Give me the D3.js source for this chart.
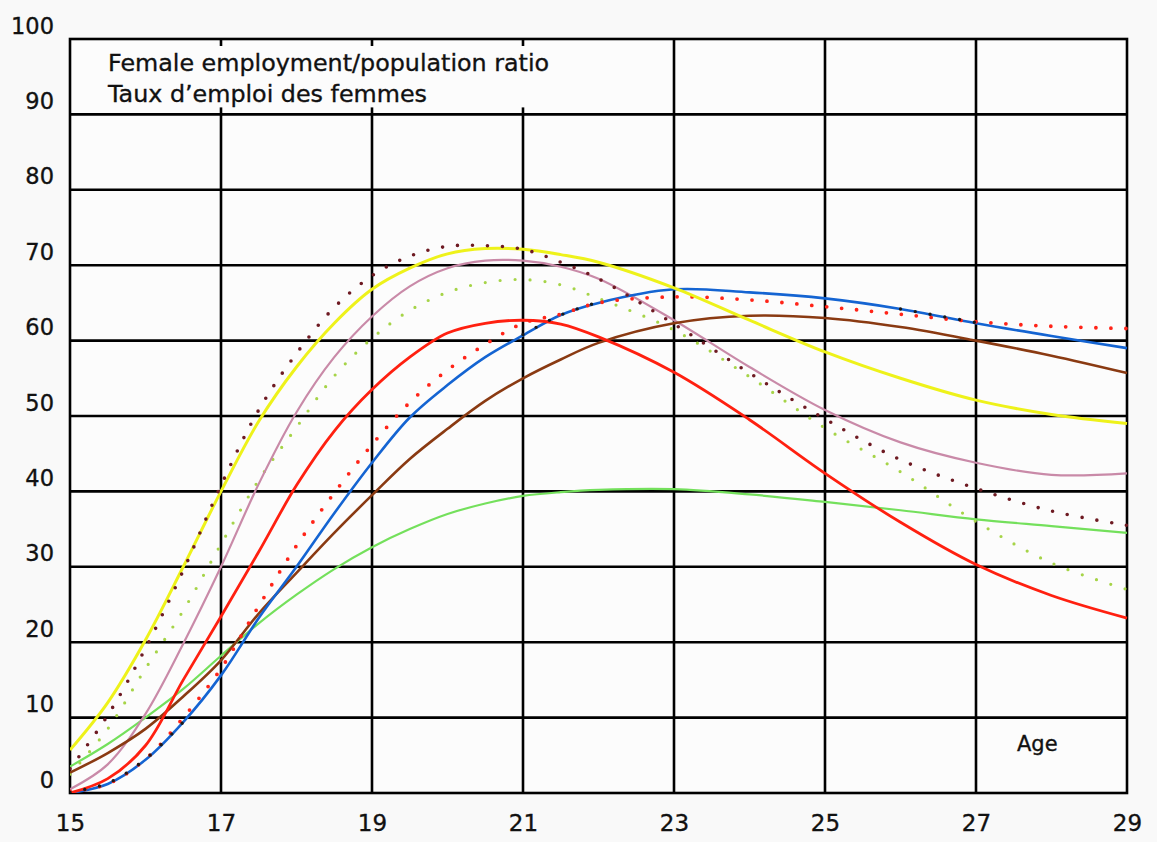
<!DOCTYPE html>
<html>
<head>
<meta charset="utf-8">
<script src="https://cdn.jsdelivr.net/npm/d3@7"></script>
<style>
  body { margin: 0; background: #f9f9f9; }
  svg { display: block; }
  text { font-family: "DejaVu Sans", "Liberation Sans", Arial, sans-serif; fill: #111; stroke: #111; stroke-width: 0.35px; }
</style>
</head>
<body>
<div id="chart-area"></div>
<script>
// ages (x) shared by every series
var ages = [15, 15.5, 16, 16.5, 17, 17.5, 18, 18.5, 19, 19.5, 20, 20.5, 21, 21.5, 22, 23, 24, 25, 26, 27, 28, 29];

// female employment / population ratio
var yellowLine  = [5.7, 12, 20.3, 30, 40, 49.3, 56.5, 62.3, 66.8, 69.6, 71.5, 72.2, 72.1, 71.4, 70.4, 67, 62.7, 58.5, 55, 52.1, 50.2, 49];
var maroonDots  = [3.2, 10.3, 19.2, 29.5, 40.8, 50.8, 58.3, 64.4, 68.6, 71.2, 72.5, 72.6, 72.1, 70.4, 68.2, 62.2, 55.7, 49.6, 44.2, 40.4, 37.4, 35.5];
var pinkLine    = [0.5, 3.8, 10.5, 19.8, 30, 41, 50.5, 57.8, 63.2, 67.2, 69.6, 70.6, 70.6, 69.8, 68.2, 62.7, 56.5, 50.8, 46.5, 43.8, 42.2, 42.4];
var lgreenDots  = [2.5, 8.5, 16.5, 24.2, 33, 41.5, 48.5, 55.3, 60.3, 64, 66.4, 67.7, 68.1, 67.4, 65.6, 61.4, 55.2, 48.4, 42.6, 36, 30.5, 27];
var redLine     = [0, 1.9, 6.3, 15, 23.4, 32, 40.8, 48, 53.5, 57.8, 61, 62.3, 62.7, 62.2, 60.5, 55.8, 49.5, 42.4, 35.9, 30.3, 26.2, 23.2];
var redDots     = [0.2, 1.2, 4.5, 10, 16.5, 24.8, 32.8, 39.8, 46.2, 51.8, 56.1, 59.5, 62.3, 63.5, 65, 65.8, 65.4, 64.5, 63.5, 62.5, 61.9, 61.6];
var blueLine    = [0, 1.2, 4.4, 9.4, 15.6, 23.2, 30, 37.1, 43.8, 49.8, 54.1, 57.8, 60.7, 63.4, 65, 66.8, 66.4, 65.6, 64.2, 62.3, 60.6, 59];
var brownLine   = [2.7, 5.3, 8.5, 12.8, 17.6, 23.8, 29.2, 34.5, 39.5, 44.3, 48.3, 52, 55, 57.5, 59.7, 62.3, 63.3, 63, 61.8, 60, 58, 55.7];
var greenLine   = [3.5, 6.5, 10, 13.8, 18.2, 22.5, 26.3, 29.7, 32.6, 35, 37, 38.4, 39.4, 39.9, 40.2, 40.3, 39.6, 38.6, 37.5, 36.3, 35.4, 34.5];
// dark dots only show where they leave the blue line
var darkDots    = [0.1, 1.3, 4.5, 9.4, null, null, null, null, null, null, null, null, 60.8, 63.4, 65.1, null, null, null, 64.2, 62.4, null, null];

var xTicks = [15, 17, 19, 21, 23, 25, 27, 29];
var yTicks = [0, 10, 20, 30, 40, 50, 60, 70, 80, 90, 100];
var titleLines = ["Female employment/population ratio", "Taux d\u2019emploi des femmes"];

var width = 1157, height = 842;

var svg = d3.select("#chart-area")
	.append("svg")
	.attr("width", width)
	.attr("height", height);

var x = d3.scaleLinear().domain([15, 29]).range([70, 1127]);
var y = d3.scaleLinear().domain([0, 100]).range([793, 39]);

// plot background
svg.append("rect")
	.attr("x", x(15)).attr("y", y(100))
	.attr("width", x(29) - x(15)).attr("height", y(0) - y(100))
	.attr("fill", "#fcfcfc");

var grid = svg.append("g").attr("class", "grid")
	.attr("stroke", "#000").attr("stroke-width", 2.6);

grid.selectAll("line.h")
	.data(yTicks.filter(function(d) { return d > 0 && d < 100; }))
	.enter().append("line")
	.attr("class", "h")
	.attr("x1", x(15)).attr("x2", x(29))
	.attr("y1", function(d) { return y(d); })
	.attr("y2", function(d) { return y(d); });

// vertical lines: 17-21 stop under the title band, 23-27 go to the top
grid.selectAll("line.v")
	.data(xTicks.filter(function(d) { return d > 15 && d < 29; }))
	.enter().append("line")
	.attr("class", "v")
	.attr("x1", function(d) { return x(d); })
	.attr("x2", function(d) { return x(d); })
	.attr("y1", y(0))
	.attr("y2", function(d) { return d <= 21 ? y(90) : y(100); });

// little ticks in the title band
var shortTicks = xTicks.filter(function(d) { return d > 15 && d <= 21; });
grid.selectAll("line.tt")
	.data(shortTicks).enter().append("line")
	.attr("x1", function(d) { return x(d); }).attr("x2", function(d) { return x(d); })
	.attr("y1", y(100)).attr("y2", y(100) + 7);
grid.selectAll("line.tb")
	.data(shortTicks).enter().append("line")
	.attr("x1", function(d) { return x(d); }).attr("x2", function(d) { return x(d); })
	.attr("y1", y(90)).attr("y2", y(90) - 7);

grid.append("rect")
	.attr("x", x(15)).attr("y", y(100))
	.attr("width", x(29) - x(15)).attr("height", y(0) - y(100))
	.attr("fill", "none");

// axes (labels only)
var yAxis = svg.append("g")
	.attr("transform", "translate(" + x(15) + ",0)")
	.call(d3.axisLeft(y).tickValues(yTicks).tickSize(0).tickPadding(16));
yAxis.select(".domain").remove();
yAxis.selectAll("text")
	.attr("dy", "-6px")
	.style("font-size", "22.5px")
	.attr("fill", "#111");

var xAxis = svg.append("g")
	.attr("transform", "translate(0," + y(0) + ")")
	.call(d3.axisBottom(x).tickValues(xTicks).tickSize(0).tickPadding(22));
xAxis.select(".domain").remove();
xAxis.selectAll("text")
	.style("font-size", "23px")
	.attr("fill", "#111");

// title in the top band
svg.selectAll("text.title")
	.data(titleLines).enter().append("text")
	.attr("class", "title")
	.attr("x", 108)
	.attr("y", function(d, i) { return 71 + i * 31; })
	.style("font-size", "23.8px")
	.text(function(d) { return d; });

svg.append("text")
	.attr("x", 1017).attr("y", 751)
	.style("font-size", "21px")
	.text("Age");

// curves
var series = [
	{ name: "green",  values: greenLine,  color: "#74e05c", width: 2.2, dots: false },
	{ name: "lgreen", values: lgreenDots, color: "#a6d448", width: 3.2, dots: true },
	{ name: "pink",   values: pinkLine,   color: "#c98aa8", width: 2.2, dots: false },
	{ name: "brown",  values: brownLine,  color: "#8a3a12", width: 2.6, dots: false },
	{ name: "blue",   values: blueLine,   color: "#1464d2", width: 2.6, dots: false },
	{ name: "redd",   values: redDots,    color: "#ff2418", width: 3.8, dots: true },
	{ name: "red",    values: redLine,    color: "#ff2010", width: 2.8, dots: false },
	{ name: "yellow", values: yellowLine, color: "#eef21a", width: 3, dots: false },
	{ name: "maroon", values: maroonDots, color: "#6e1a22", width: 3.6, dots: true },
	{ name: "dark",   values: darkDots,   color: "#1a1a1a", width: 3.4, dots: true }
];

var line = d3.line()
	.defined(function(d) { return d[1] != null; })
	.x(function(d) { return x(d[0]); })
	.y(function(d) { return y(d[1]); })
	.curve(d3.curveCatmullRom.alpha(0.5));

svg.append("clipPath").attr("id", "plotclip")
	.append("rect")
	.attr("x", x(15)).attr("y", y(100))
	.attr("width", x(29) - x(15) + 2).attr("height", y(0) - y(100));

svg.append("g").attr("clip-path", "url(#plotclip)")
	.selectAll("path.curve")
	.data(series).enter().append("path")
	.attr("class", function(d) { return "curve " + d.name; })
	.attr("fill", "none")
	.attr("stroke", function(d) { return d.color; })
	.attr("stroke-width", function(d) { return d.width; })
	.attr("stroke-linecap", function(d) { return d.dots ? "round" : "butt"; })
	.attr("stroke-dasharray", function(d) { return d.dots ? "0 15" : null; })
	.attr("d", function(d) {
		return line(ages.map(function(a, i) { return [a, d.values[i]]; }));
	});
</script>
</body>
</html>
